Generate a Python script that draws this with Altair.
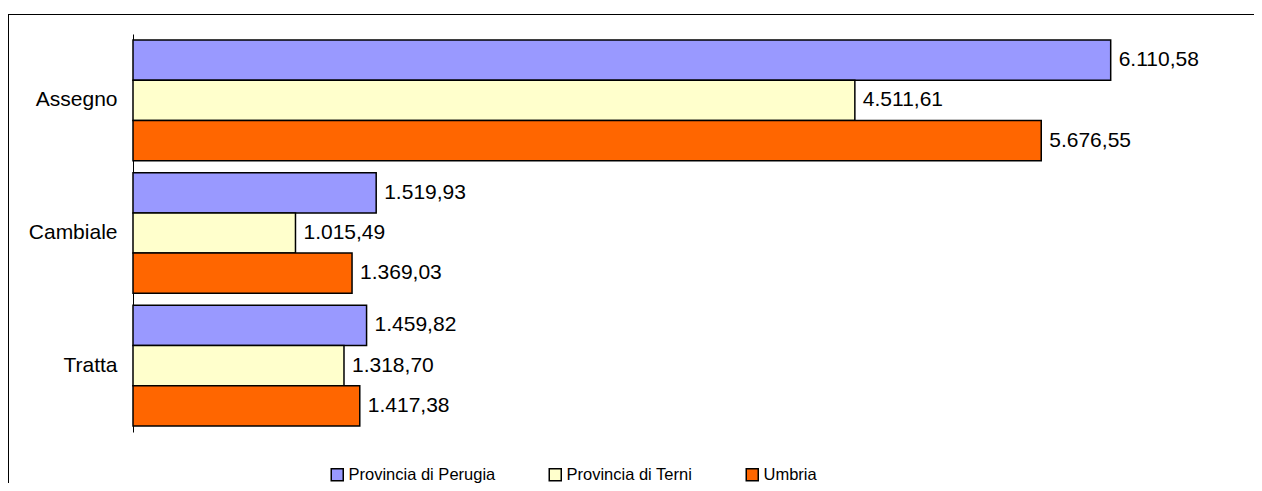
import altair as alt
import pandas as pd

categories = ["Assegno", "Cambiale", "Tratta"]
series = ["Provincia di Perugia", "Provincia di Terni", "Umbria"]
perugia = [6110.58, 1519.93, 1459.82]
terni = [4511.61, 1015.49, 1318.70]
umbria = [5676.55, 1369.03, 1417.38]
colors = ["#9999FF", "#FFFFCC", "#FF6600"]


def it_fmt(v):
    s = f"{v:,.2f}"
    return s.replace(",", "X").replace(".", ",").replace("X", ".")


rows = []
for i, c in enumerate(categories):
    for s, vals in zip(series, [perugia, terni, umbria]):
        rows.append({"categoria": c, "serie": s, "valore": vals[i],
                     "etichetta": it_fmt(vals[i])})
df = pd.DataFrame(rows)

W, H = 1246, 469
FONT = "Liberation Sans"

y = alt.Y(
    "categoria:N", sort=categories,
    scale=alt.Scale(range=[20, 418], paddingInner=0.09, paddingOuter=0.045),
    axis=alt.Axis(title=None, orient="left", offset=-125, ticks=False,
                  labelPadding=16, domainColor="black", domainWidth=1,
                  labelFontSize=21, labelFont=FONT, labelColor="black"),
)
yoff = alt.YOffset("serie:N", sort=series,
                   scale=alt.Scale(paddingInner=0, paddingOuter=0))
x = alt.X("valore:Q", scale=alt.Scale(domain=[0, 6250], range=[125, 1125]),
          axis=None)

base = alt.Chart(df)
bars = base.mark_bar(stroke="black", strokeWidth=1.5).encode(
    x=x, y=y, yOffset=yoff,
    color=alt.Color(
        "serie:N", sort=series,
        scale=alt.Scale(domain=series, range=colors),
        legend=alt.Legend(
            title=None, orient="none", legendX=321, legendY=452,
            direction="horizontal", symbolType="square", symbolSize=144,
            symbolStrokeColor="black", symbolStrokeWidth=1.5,
            labelFontSize=16.5, labelFont=FONT, labelLimit=0,
            labelColor="black", columnPadding=50, labelOffset=3, padding=0,
        ),
    ),
)
text = base.mark_text(align="left", baseline="middle", dx=8, fontSize=21,
                      font=FONT, color="black").encode(
    x=x, y=y, yOffset=yoff, text="etichetta:N")

frame_src = alt.Chart(pd.DataFrame({"k": [0]}))
top_line = frame_src.mark_rule(color="black", strokeWidth=1).encode(
    x=alt.value(0), x2=alt.value(W), y=alt.value(0.5))
left_line = frame_src.mark_rule(color="black", strokeWidth=1).encode(
    x=alt.value(0.5), y=alt.value(0), y2=alt.value(H))

chart = (
    alt.layer(top_line, left_line, bars, text)
    .properties(width=W, height=H, autosize=alt.AutoSizeParams(type="none"),
                padding={"top": 6, "left": 0, "right": 0, "bottom": 0})
    .configure_view(stroke="transparent")
)

chart.save("out.html", embed_options={"renderer": "svg", "actions": False})
